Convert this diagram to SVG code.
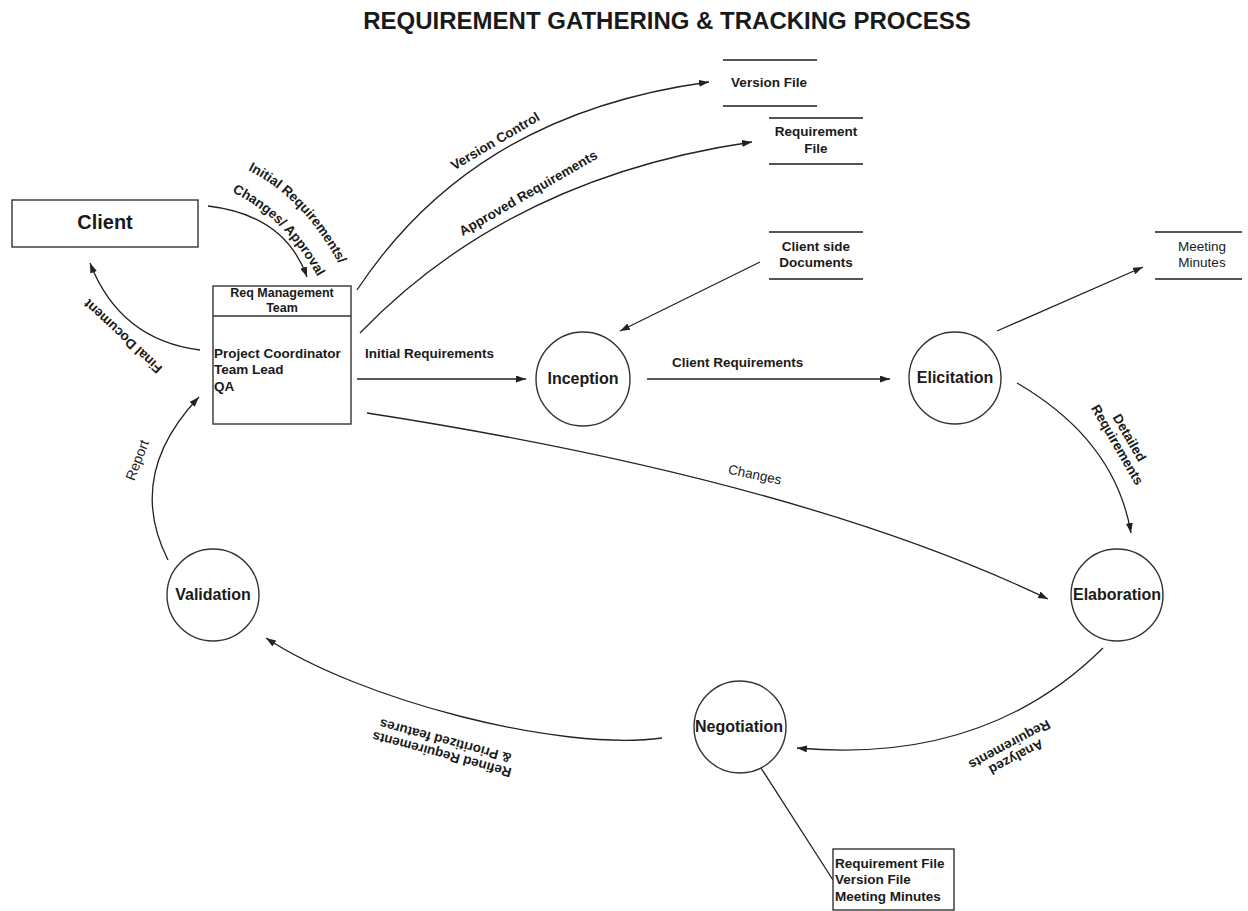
<svg xmlns="http://www.w3.org/2000/svg" width="1248" height="911" viewBox="0 0 1248 911">
<style>
text{font-family:"Liberation Sans",Arial,sans-serif;fill:#1a1a1a}
.b{font-weight:bold}
.lbl{font-size:13.5px;font-weight:bold}
.node{font-size:16px;font-weight:bold}
.c{fill:none;stroke:#222;stroke-width:1.3}
.ca{fill:none;stroke:#222;stroke-width:1.3;marker-end:url(#ah)}
.shape{fill:#fff;stroke:#333;stroke-width:1.4}
.store{stroke:#555;stroke-width:1.8}
</style>
<defs>
<marker id="ah" viewBox="0 0 10 7" refX="10" refY="3.5" markerWidth="10" markerHeight="7" markerUnits="userSpaceOnUse" orient="auto"><path d="M0,0 L10,3.5 L0,7 z" fill="#222"/></marker>
<path id="tp1" d="M248,170 Q303,198 339,264"/>
<path id="tp2" d="M232,192 Q286,218 320,281"/>
</defs>
<rect width="1248" height="911" fill="#fff"/>
<g id="title"><text x="667" y="29" text-anchor="middle" font-size="24" class="b">REQUIREMENT GATHERING &amp; TRACKING PROCESS</text></g>

<g id="connectors">
<path class="ca" d="M208,206 Q285,215 307,277"/>
<text class="lbl"><textPath href="#tp1">Initial Requirements/</textPath></text>
<text class="lbl"><textPath href="#tp2">Changes/ Approval</textPath></text>

<path class="ca" d="M200,350 Q120,340 90,263"/>
<text class="lbl" text-anchor="middle" transform="translate(126,333) rotate(223)">Final Document</text>

<path class="ca" d="M357,290 C430,180 540,105 709,82"/>
<text class="lbl" text-anchor="middle" transform="translate(497.5,145) rotate(-30.5)">Version Control</text>

<path class="ca" d="M360,333 C440,250 560,170 752,142"/>
<text class="lbl" text-anchor="middle" transform="translate(530.5,197) rotate(-30)">Approved Requirements</text>

<path class="ca" d="M357,379 L526,379"/>
<text class="lbl" x="365" y="358">Initial Requirements</text>

<path class="ca" d="M647,379 L890,379"/>
<text class="lbl" x="672" y="367">Client Requirements</text>

<path class="ca" d="M760,262 L620,331"/>
<path class="ca" d="M997,331 L1143,267"/>

<path class="ca" d="M1017,383 Q1115,440 1131,533"/>
<g class="lbl" text-anchor="middle" transform="translate(1125.5,440) rotate(60)"><text x="0" y="0">Detailed</text><text x="0" y="14">Requirements</text></g>

<path class="ca" d="M367,413 Q800,480 1048,599"/>
<text font-size="13.5" text-anchor="middle" transform="translate(754,479) rotate(12)">Changes</text>

<path class="ca" d="M1103,648 Q985,765 797,748"/>
<g class="lbl" text-anchor="middle" transform="translate(1014,753) rotate(152)"><text x="0" y="0">Analyzed</text><text x="0" y="14">Requirements</text></g>

<path class="ca" d="M662,738 C560,752 360,700 266,638"/>
<g class="lbl" text-anchor="middle" transform="translate(443,750) rotate(195)"><text x="0" y="0">Refined Requirements</text><text x="0" y="14">&amp; Prioritized features</text></g>

<path class="ca" d="M168,560 Q125,475 199,397"/>
<text font-size="14" text-anchor="middle" transform="translate(141.7,461.8) rotate(-69)">Report</text>

<path class="c" d="M761,768 L833,880"/>
</g>

<g id="client"><rect class="shape" x="12" y="200" width="186" height="47"/><text x="105" y="229" text-anchor="middle" font-size="20" class="b">Client</text></g>

<g id="req-team">
<rect class="shape" x="213" y="286" width="138" height="138"/>
<line x1="213" y1="316" x2="351" y2="316" stroke="#333" stroke-width="1.4"/>
<text x="282" y="297" text-anchor="middle" font-size="12.5" class="b">Req Management</text>
<text x="282" y="312" text-anchor="middle" font-size="12.5" class="b">Team</text>
<text x="214" y="358" font-size="13.5" class="b">Project Coordinator</text>
<text x="214" y="374" font-size="13.5" class="b">Team Lead</text>
<text x="214" y="391" font-size="13.5" class="b">QA</text>
</g>

<g id="version-file"><line class="store" x1="723" y1="60" x2="817" y2="60"/><line class="store" x1="723" y1="106" x2="817" y2="106"/><text x="769" y="87" text-anchor="middle" class="lbl">Version File</text></g>
<g id="requirement-file"><line class="store" x1="769" y1="118" x2="863" y2="118"/><line class="store" x1="769" y1="164" x2="863" y2="164"/><text x="816" y="136" text-anchor="middle" class="lbl">Requirement</text><text x="816" y="153" text-anchor="middle" class="lbl">File</text></g>
<g id="client-docs"><line class="store" x1="769" y1="232" x2="863" y2="232"/><line class="store" x1="769" y1="279" x2="863" y2="279"/><text x="816" y="251" text-anchor="middle" class="lbl">Client side</text><text x="816" y="267" text-anchor="middle" class="lbl">Documents</text></g>
<g id="meeting-minutes"><line class="store" x1="1155" y1="232" x2="1242" y2="232"/><line class="store" x1="1155" y1="279" x2="1242" y2="279"/><text x="1202" y="251" text-anchor="middle" font-size="13.5">Meeting</text><text x="1202" y="267" text-anchor="middle" font-size="13.5">Minutes</text></g>

<g id="inception"><circle class="shape" cx="583" cy="379" r="47"/><text x="583" y="384" text-anchor="middle" class="node">Inception</text></g>
<g id="elicitation"><circle class="shape" cx="955" cy="378" r="46"/><text x="955" y="383" text-anchor="middle" class="node">Elicitation</text></g>
<g id="elaboration"><circle class="shape" cx="1117" cy="595" r="46"/><text x="1117" y="600" text-anchor="middle" class="node" font-size="15.5">Elaboration</text></g>
<g id="negotiation"><circle class="shape" cx="740" cy="727" r="46"/><text x="739" y="732" text-anchor="middle" class="node" font-size="15.5">Negotiation</text></g>
<g id="validation"><circle class="shape" cx="213" cy="595" r="46"/><text x="213" y="600" text-anchor="middle" class="node" font-size="15.5">Validation</text></g>

<g id="artifacts-box"><rect class="shape" x="833" y="849" width="121" height="61"/><text x="835" y="868" class="lbl">Requirement File</text><text x="835" y="884" class="lbl">Version File</text><text x="835" y="901" class="lbl">Meeting Minutes</text></g>
</svg>
